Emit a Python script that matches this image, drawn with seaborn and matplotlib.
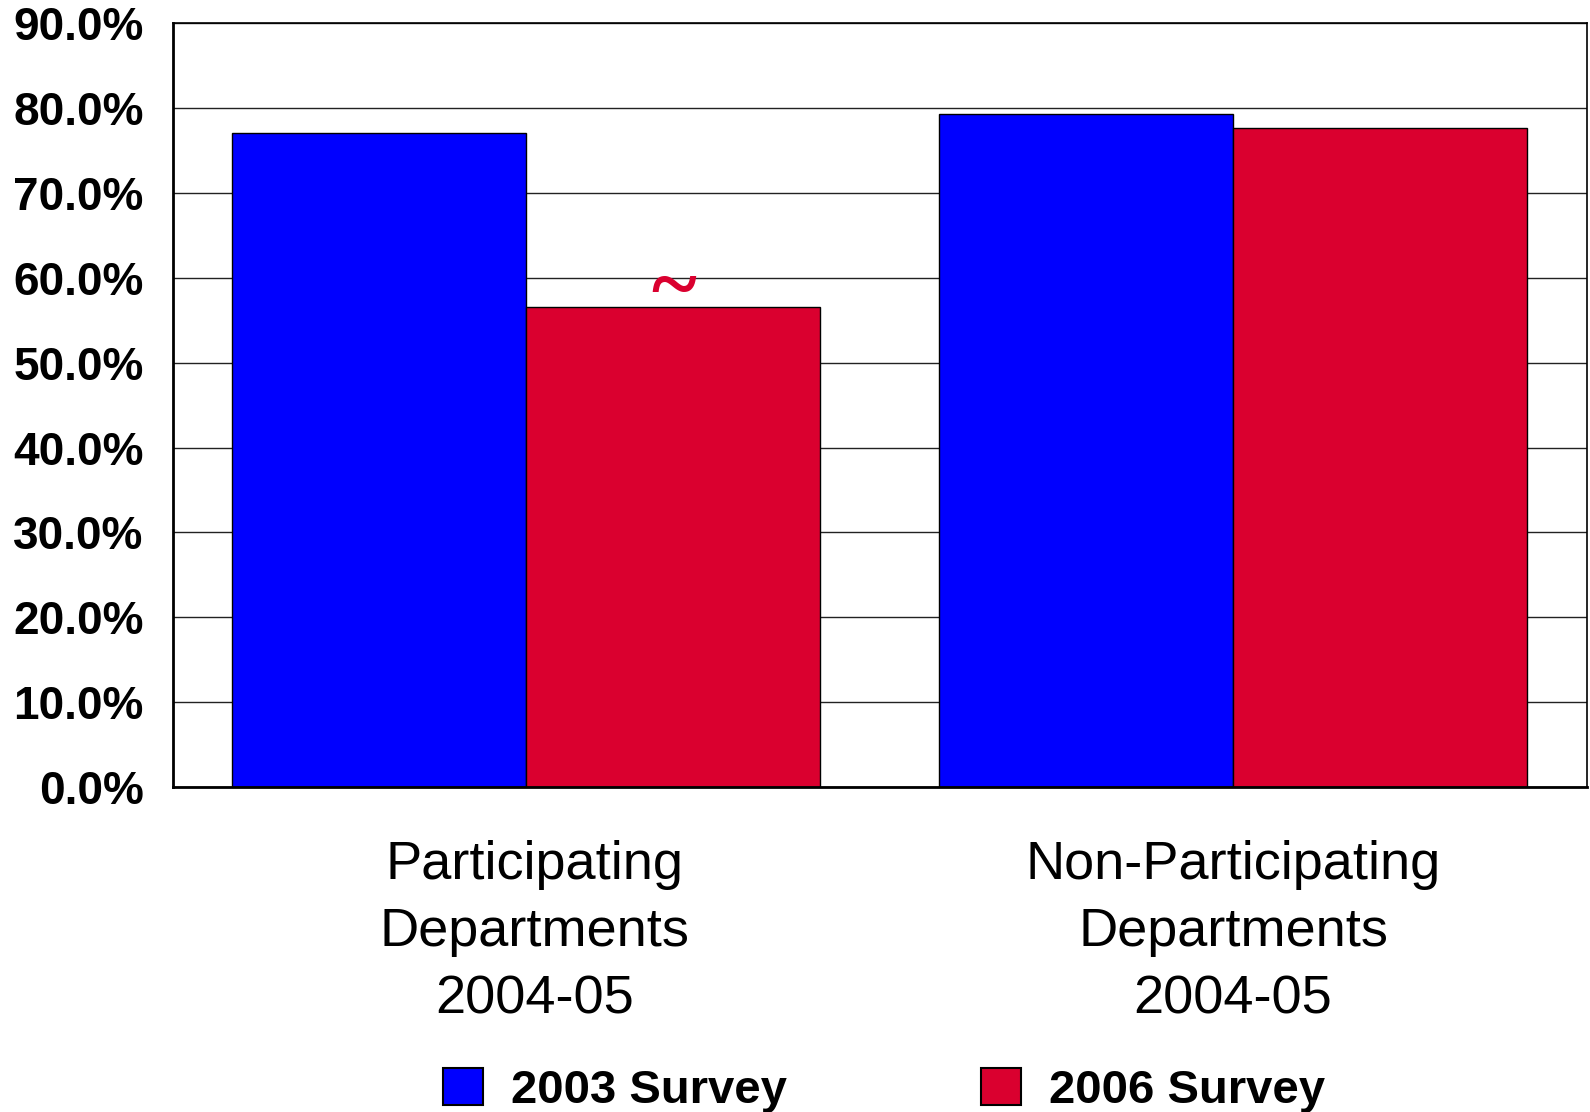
import matplotlib
matplotlib.use("Agg")
import matplotlib.pyplot as plt
import matplotlib.transforms as mtransforms
import seaborn as sns
import pandas as pd
from matplotlib.ticker import FuncFormatter, MultipleLocator

# Share of departments, by survey year
departments = ["Participating\nDepartments\n2004-05", "Non-Participating\nDepartments\n2004-05"]
survey_2003 = [77.1, 79.3]
survey_2006 = [56.6, 77.7]
surveys = ["2003 Survey", "2006 Survey"]
flags_2006 = ["~", ""]

BLUE = "#0000FF"
RED = "#DA002F"

df = pd.DataFrame({
    "dept": departments * 2,
    "pct": survey_2003 + survey_2006,
    "survey": [surveys[0]] * 2 + [surveys[1]] * 2,
})

sns.set_theme(style="white")
plt.rcParams["font.family"] = ["Liberation Sans", "DejaVu Sans"]
plt.rcParams["text.color"] = "black"
plt.rcParams["xtick.color"] = "black"
plt.rcParams["ytick.color"] = "black"

fig = plt.figure(figsize=(15.9, 11.12), dpi=100)
ax = fig.add_axes([0.1088, 0.2923, 0.889, 0.6867])

sns.barplot(data=df, x="dept", y="pct", hue="survey", palette=[BLUE, RED],
            edgecolor="black", linewidth=1.0, width=0.832, saturation=1.0, ax=ax)

ax.set_ylim(0, 90)
ax.yaxis.set_major_locator(MultipleLocator(10))
ax.yaxis.set_major_formatter(FuncFormatter(lambda v, _: f"{v:.1f}%"))
ax.set_axisbelow(True)
ax.yaxis.grid(True, color="#222222", linewidth=1.0)
ax.xaxis.grid(False)
for s in ax.spines.values():
    s.set_visible(True)
    s.set_color("black")
    s.set_linewidth(1.2)
ax.spines["bottom"].set_linewidth(2.0)
ax.spines["left"].set_linewidth(2.0)

ax.set_xlabel("")
ax.set_ylabel("")
ax.tick_params(axis="y", length=0, pad=21, labelsize=33, labelcolor="black")
ax.tick_params(axis="x", length=0, pad=38, labelsize=39, labelcolor="black")
for lab in ax.get_yticklabels():
    lab.set_fontweight("bold")
xlabels = ax.get_xticklabels()
for lab in xlabels:
    lab.set_linespacing(1.44)
# the first category label sits a little right of its bar pair
xlabels[0].set_transform(xlabels[0].get_transform()
                         + mtransforms.ScaledTranslation(8 / 100, 0, fig.dpi_scale_trans))

# significance flag above the 2006 bar
red_bars = ax.containers[1]
for bar, flag in zip(red_bars, flags_2006):
    if flag:
        ax.text(bar.get_x() + bar.get_width() / 2, bar.get_height() + 1.8, flag,
                ha="center", va="center", color=RED, fontsize=62,
                fontweight="bold", family=["Liberation Serif", "DejaVu Serif"])

handles, labels = ax.get_legend_handles_labels()
if ax.get_legend() is not None:
    ax.get_legend().remove()
leg = fig.legend(handles, labels, loc="lower center", ncol=2, frameon=False,
                 bbox_to_anchor=(0.556, -0.039),
                 prop={"family": ["Liberation Sans", "DejaVu Sans"],
                       "weight": "bold", "size": 34},
                 handlelength=0.85, handleheight=0.85, handletextpad=0.6,
                 columnspacing=4.1)
for h in leg.legend_handles:
    h.set_edgecolor("black")
    h.set_linewidth(1.5)

fig.savefig("out.png", dpi=100)
